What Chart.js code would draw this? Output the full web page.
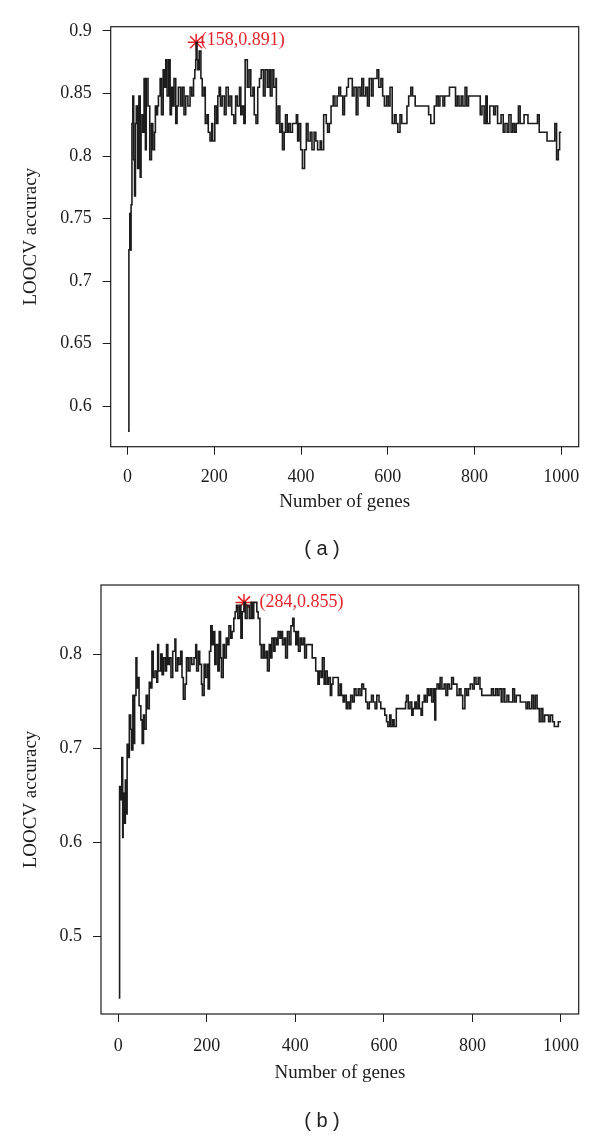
<!DOCTYPE html>
<html>
<head>
<meta charset="utf-8">
<script src="https://cdn.jsdelivr.net/npm/chart.js"></script>
<style>
  html, body { margin: 0; padding: 0; background: #fff; }
  #page { position: relative; width: 600px; height: 1137px; overflow: hidden; }
  canvas { position: absolute; left: 0; }
  #chart-a { top: 0; }
  #chart-b { top: 560px; }
  .caption {
    position: absolute; width: 100px; text-align: center;
    font: 20px "Liberation Sans", Arial, sans-serif; line-height: 20px; color: #222;
  }
</style>
</head>
<body>
<div id="page">
  <canvas id="chart-a" width="600" height="560"></canvas>
  <canvas id="chart-b" width="600" height="577"></canvas>
  <div class="caption" style="left:272px; top:538px;">( a )</div>
  <div class="caption" style="left:272px; top:1110px;">( b )</div>
</div>
<script>
// ---- data ----

// (a) number of genes / LOOCV accuracy
const genesA = [
  1, 3, 5, 6, 8, 10, 12, 14, 16, 18,
  20, 23, 26, 29, 31, 33, 36, 38, 41, 43,
  47, 51, 55, 58, 62, 64, 66, 69, 71, 75,
  78, 82, 85, 88, 91, 95, 98, 101, 104, 107,
  111, 114, 117, 122, 126, 130, 134, 139, 144, 148,
  152, 155, 157, 158, 160, 162, 165, 169, 172, 176,
  179, 183, 186, 190, 194, 196, 201, 205, 208, 211,
  214, 218, 223, 227, 232, 236, 240, 245, 249, 253,
  258, 261, 264, 268, 271, 276, 280, 284, 289, 292,
  296, 300, 304, 308, 313, 317, 322, 326, 329, 333,
  337, 342, 343, 347, 351, 355, 357, 361, 364, 368,
  371, 375, 380, 384, 389, 392, 395, 399, 403, 408,
  412, 416, 421, 425, 430, 434, 438, 444, 447, 452,
  458, 461, 465, 469, 474, 478, 483, 487, 491, 496,
  500, 505, 509, 513, 518, 522, 527, 531, 536, 540,
  544, 549, 553, 557, 562, 566, 570, 575, 579, 584,
  588, 592, 597, 601, 605, 610, 615, 619, 623, 628,
  632, 641, 644, 648, 653, 657, 663, 677, 690, 694,
  699, 703, 707, 712, 716, 720, 727, 731, 738, 742,
  751, 756, 760, 764, 769, 773, 778, 782, 786, 800,
  808, 813, 817, 822, 826, 829, 835, 844, 848, 853,
  861, 866, 870, 875, 879, 884, 888, 892, 896, 901,
  905, 914, 923, 932, 941, 945, 949, 958, 967, 980,
  985, 989, 993, 996, 1000
];
const accA = [
  0.58, 0.725, 0.754, 0.725, 0.761, 0.826, 0.848, 0.797, 0.768, 0.826,
  0.84, 0.79, 0.848, 0.783, 0.819, 0.833, 0.819, 0.862, 0.805, 0.862,
  0.84, 0.797, 0.826, 0.805, 0.819, 0.84, 0.833, 0.84, 0.848, 0.862,
  0.833, 0.869, 0.855, 0.877, 0.848, 0.877, 0.833, 0.855, 0.84, 0.862,
  0.826, 0.84, 0.855, 0.84, 0.855, 0.833, 0.848, 0.84, 0.855, 0.848,
  0.862, 0.869, 0.877, 0.891, 0.877, 0.869, 0.884, 0.862, 0.848, 0.855,
  0.826, 0.833, 0.819, 0.812, 0.826, 0.812, 0.84, 0.826, 0.848, 0.855,
  0.84, 0.848, 0.833, 0.855, 0.84, 0.848, 0.833, 0.826, 0.848, 0.84,
  0.855, 0.833, 0.84, 0.826, 0.877, 0.855, 0.869, 0.848, 0.855, 0.833,
  0.826, 0.855, 0.862, 0.869, 0.848, 0.869, 0.855, 0.869, 0.848, 0.869,
  0.855, 0.862, 0.826, 0.84, 0.819, 0.826, 0.805, 0.819, 0.833, 0.819,
  0.826, 0.819, 0.826, 0.826, 0.833, 0.812, 0.826, 0.805, 0.79, 0.805,
  0.826, 0.812, 0.819, 0.805, 0.819, 0.812, 0.805, 0.812, 0.805, 0.833,
  0.826, 0.819, 0.826, 0.84, 0.848, 0.84, 0.848, 0.855, 0.848, 0.833,
  0.848, 0.855, 0.862, 0.862, 0.848, 0.855, 0.833, 0.855, 0.848, 0.862,
  0.848, 0.855, 0.84, 0.862, 0.848, 0.862, 0.862, 0.869, 0.855, 0.862,
  0.848, 0.84, 0.848, 0.84, 0.855, 0.826, 0.833, 0.826, 0.819, 0.833,
  0.826, 0.826, 0.84, 0.848, 0.855, 0.848, 0.84, 0.84, 0.84, 0.833,
  0.826, 0.826, 0.84, 0.848, 0.84, 0.848, 0.84, 0.848, 0.848, 0.855,
  0.855, 0.84, 0.848, 0.84, 0.848, 0.84, 0.855, 0.84, 0.848, 0.848,
  0.848, 0.833, 0.84, 0.826, 0.848, 0.826, 0.84, 0.833, 0.84, 0.826,
  0.833, 0.819, 0.826, 0.819, 0.833, 0.819, 0.826, 0.819, 0.826, 0.84,
  0.826, 0.833, 0.826, 0.826, 0.826, 0.833, 0.819, 0.819, 0.812, 0.812,
  0.826, 0.797, 0.805, 0.819, 0.819
];
const peakA = { genes: 158, acc: 0.891 };
const yTicksA = [0.6, 0.65, 0.7, 0.75, 0.8, 0.85, 0.9];

// (b) number of genes / LOOCV accuracy
const genesB = [
  1, 3, 5, 8, 10, 11, 14, 16, 18, 20,
  22, 25, 28, 30, 33, 35, 37, 40, 42, 44,
  47, 51, 54, 57, 59, 63, 66, 70, 73, 76,
  79, 83, 87, 89, 91, 96, 99, 102, 106, 109,
  112, 115, 119, 123, 128, 130, 134, 137, 141, 144,
  147, 151, 154, 158, 162, 166, 171, 175, 177, 181,
  184, 188, 190, 194, 197, 201, 203, 206, 209, 212,
  215, 218, 221, 225, 228, 231, 233, 237, 240, 244,
  247, 250, 254, 257, 261, 264, 267, 270, 274, 277,
  280, 284, 287, 291, 296, 300, 303, 306, 309, 313,
  316, 320, 323, 327, 330, 334, 337, 341, 344, 347,
  351, 354, 358, 361, 365, 368, 371, 375, 378, 382,
  386, 390, 394, 397, 401, 404, 407, 411, 414, 418,
  421, 425, 433, 438, 442, 446, 451, 454, 458, 461,
  465, 468, 472, 475, 479, 482, 485, 494, 497, 501,
  504, 508, 511, 515, 518, 522, 525, 529, 533, 537,
  542, 546, 550, 554, 559, 563, 567, 572, 576, 580,
  584, 589, 593, 597, 602, 606, 609, 613, 616, 620,
  623, 628, 636, 645, 649, 651, 655, 659, 663, 666,
  670, 673, 677, 680, 684, 687, 691, 694, 698, 701,
  705, 708, 712, 715, 717, 720, 724, 727, 731, 736,
  740, 744, 748, 753, 757, 761, 765, 770, 774, 778,
  783, 787, 791, 795, 800, 804, 808, 813, 817, 821,
  838, 843, 847, 852, 856, 860, 865, 869, 873, 878,
  882, 891, 895, 899, 908, 917, 921, 925, 929, 934,
  938, 942, 946, 951, 955, 959, 963, 968, 972, 976,
  981, 985, 989, 994, 1000
];
const accB = [
  0.434, 0.659, 0.645, 0.69, 0.605, 0.652, 0.62, 0.666, 0.63, 0.704,
  0.69, 0.735, 0.72, 0.698, 0.756, 0.705, 0.756, 0.796, 0.764, 0.775,
  0.745, 0.73, 0.705, 0.735, 0.72, 0.756, 0.742, 0.77, 0.764, 0.803,
  0.775, 0.782, 0.77, 0.81, 0.782, 0.8, 0.778, 0.796, 0.782, 0.81,
  0.789, 0.796, 0.775, 0.803, 0.816, 0.782, 0.796, 0.789, 0.803, 0.775,
  0.752, 0.768, 0.796, 0.782, 0.796, 0.789, 0.796, 0.81, 0.782, 0.803,
  0.789, 0.768, 0.756, 0.789, 0.775, 0.789, 0.763, 0.803, 0.83, 0.81,
  0.824, 0.789, 0.81, 0.782, 0.824, 0.796, 0.775, 0.81, 0.796, 0.817,
  0.81, 0.83, 0.817, 0.824, 0.838, 0.845, 0.852, 0.838, 0.852, 0.817,
  0.845, 0.855, 0.838, 0.852, 0.838, 0.855, 0.838, 0.855, 0.855, 0.845,
  0.838, 0.81, 0.796, 0.81, 0.796, 0.803, 0.782, 0.81, 0.796, 0.817,
  0.803, 0.817, 0.81, 0.824, 0.817, 0.824, 0.81, 0.817, 0.796, 0.824,
  0.81, 0.83, 0.838, 0.824, 0.81, 0.824, 0.803, 0.817, 0.81, 0.817,
  0.796, 0.81, 0.81, 0.796, 0.796, 0.782, 0.768, 0.782, 0.775, 0.796,
  0.768, 0.782, 0.768, 0.775, 0.756, 0.768, 0.775, 0.775, 0.756, 0.768,
  0.756, 0.749, 0.756, 0.742, 0.749, 0.742, 0.756, 0.749, 0.763, 0.756,
  0.763, 0.756, 0.768, 0.763, 0.749, 0.742, 0.749, 0.756, 0.749, 0.742,
  0.756, 0.749, 0.742, 0.742, 0.735, 0.728, 0.723, 0.735, 0.723, 0.73,
  0.723, 0.742, 0.742, 0.742, 0.749, 0.756, 0.742, 0.749, 0.735, 0.742,
  0.749, 0.742, 0.756, 0.742, 0.735, 0.749, 0.756, 0.749, 0.763, 0.756,
  0.763, 0.749, 0.763, 0.73, 0.763, 0.768, 0.763, 0.775, 0.763, 0.768,
  0.756, 0.768, 0.763, 0.775, 0.768, 0.768, 0.756, 0.763, 0.756, 0.742,
  0.763, 0.756, 0.763, 0.768, 0.763, 0.775, 0.768, 0.775, 0.763, 0.756,
  0.756, 0.763, 0.756, 0.763, 0.756, 0.763, 0.749, 0.763, 0.749, 0.756,
  0.749, 0.763, 0.749, 0.756, 0.749, 0.749, 0.742, 0.749, 0.742, 0.756,
  0.742, 0.756, 0.742, 0.728, 0.742, 0.728, 0.735, 0.735, 0.728, 0.735,
  0.728, 0.723, 0.723, 0.728, 0.728
];
const peakB = { genes: 284, acc: 0.855 };
const yTicksB = [0.5, 0.6, 0.7, 0.8];

const xTicks = [0, 200, 400, 600, 800, 1000];

// ---- drawing ----
const SERIF = '"Liberation Serif", "Times New Roman", serif';
const INK = '#1c1c1c';
const RED = '#e3242b';

Chart.defaults.font.family = SERIF;
Chart.defaults.color = INK;

// box around the plotting region, like R's bty="o"
const framePlugin = {
  id: 'frame',
  afterDraw(chart) {
    const { ctx, chartArea: a } = chart;
    ctx.save();
    ctx.strokeStyle = INK;
    ctx.lineWidth = 1.2;
    ctx.strokeRect(a.left, a.top, a.right - a.left, a.bottom - a.top);
    ctx.restore();
  }
};

// red "(genes,acc)" text next to the peak marker
const peakLabelPlugin = {
  id: 'peakLabel',
  afterDatasetsDraw(chart, args, opts) {
    const pt = chart.getDatasetMeta(1).data[0];
    if (!pt) return;
    const ctx = chart.ctx;
    ctx.save();
    ctx.fillStyle = RED;
    ctx.font = '18px ' + SERIF;
    ctx.textAlign = 'left';
    ctx.textBaseline = 'middle';
    ctx.fillText(opts.text, pt.x + opts.dx, pt.y + opts.dy);
    ctx.restore();
  }
};

function makeChart(id, genes, acc, peak, yTicks, box) {
  const points = genes.map((g, i) => ({ x: g, y: acc[i] }));
  return new Chart(document.getElementById(id), {
    type: 'line',
    data: {
      datasets: [{
        data: points,
        borderColor: INK,
        borderWidth: 1.6,
        pointRadius: 0,
        stepped: true,
        tension: 0
      }, {
        data: [{ x: peak.genes, y: peak.acc }],
        showLine: false,
        pointStyle: 'star',
        pointRadius: 8.5,
        pointBorderColor: RED,
        pointBorderWidth: 1.5
      }]
    },
    options: {
      responsive: false,
      animation: false,
      events: [],
      layout: { padding: { top: box.top, right: box.right, left: 0, bottom: 0 } },
      plugins: {
        legend: { display: false },
        tooltip: { enabled: false },
        peakLabel: { text: '(' + peak.genes + ',' + peak.acc + ')', dx: box.labelDx, dy: box.labelDy }
      },
      scales: {
        x: {
          type: 'linear',
          min: -39,
          max: 1040,
          afterBuildTicks: s => { s.ticks = xTicks.map(v => ({ value: v })); },
          afterFit: s => { s.height = box.xHeight; },
          border: { display: false },
          grid: { drawOnChartArea: false, drawTicks: true, tickLength: 8, color: INK, lineWidth: 1 },
          ticks: { font: { size: 18 }, padding: box.xPad, maxRotation: 0, callback: v => String(v) },
          title: { display: true, text: 'Number of genes', font: { size: 19 }, padding: { top: 0, bottom: box.xTitlePad } }
        },
        y: {
          type: 'linear',
          min: box.yMin,
          max: box.yMax,
          afterBuildTicks: s => { s.ticks = yTicks.map(v => ({ value: v })); },
          afterFit: s => { s.width = box.left; },
          border: { display: false },
          grid: { drawOnChartArea: false, drawTicks: true, tickLength: 8, color: INK, lineWidth: 1 },
          ticks: { font: { size: 18 }, padding: 11, callback: v => String(v) },
          title: { display: true, text: 'LOOCV accuracy', font: { size: 19 }, padding: { top: 19.5, bottom: 0 } }
        }
      }
    },
    plugins: [framePlugin, peakLabelPlugin]
  });
}

makeChart('chart-a', genesA, accA, peakA, yTicksA, {
  top: 26.7, right: 21.3, left: 110.7, xHeight: 113.3,
  xPad: 12, xTitlePad: 46.6, yMin: 0.5676, yMax: 0.9034,
  labelDx: 4.5, labelDy: -1.5
});
makeChart('chart-b', genesB, accB, peakB, yTicksB, {
  top: 25, right: 21.3, left: 101, xHeight: 123,
  xPad: 13, xTitlePad: 52.6, yMin: 0.417, yMax: 0.8735,
  labelDx: 15.5, labelDy: 0
});
</script>
</body>
</html>
